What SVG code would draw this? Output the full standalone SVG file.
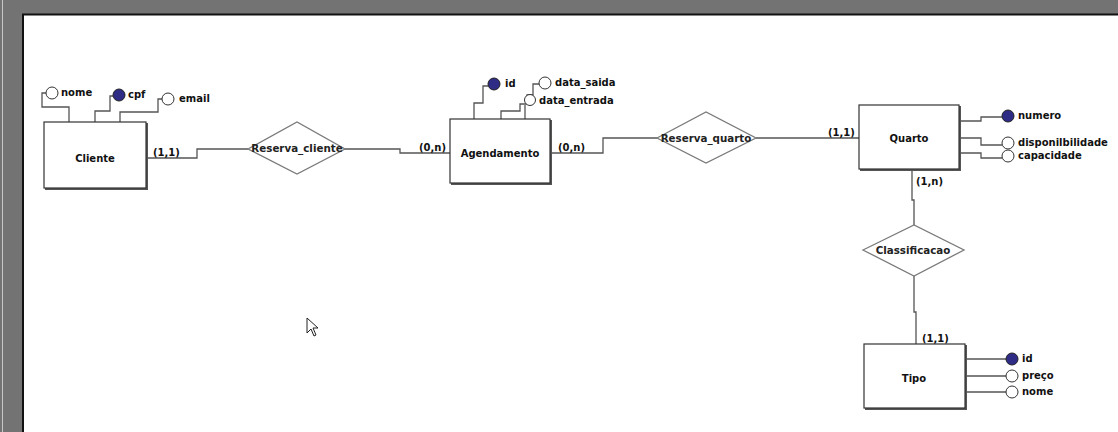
<svg xmlns="http://www.w3.org/2000/svg" width="1118" height="432" viewBox="0 0 1118 432">
<style>
text{font-family:"DejaVu Sans","Liberation Sans",sans-serif;font-weight:bold;font-size:10px;fill:#111}
.rel{fill:#222;font-size:10.3px}
.ln{fill:none;stroke:#555;stroke-width:1.3}
.box{fill:#fff;stroke:#333;stroke-width:1.2}
.sh{fill:none;stroke:#555;stroke-width:2}
.dia{fill:#fff;stroke:#7a7a7a;stroke-width:1.3}
.pk{fill:#2f2c85;stroke:#222;stroke-width:1}
.at{fill:#fff;stroke:#333;stroke-width:1}
</style>
<rect width="1118" height="432" fill="#fff"/>
<rect x="0" y="0" width="1118" height="14" fill="#737373"/>
<rect x="0" y="0" width="23" height="432" fill="#737373"/>
<line x1="2.5" y1="0" x2="2.5" y2="432" stroke="#c8c8c8" stroke-width="1"/>
<line x1="22" y1="14.5" x2="1118" y2="14.5" stroke="#111" stroke-width="2"/>
<line x1="23" y1="14" x2="23" y2="432" stroke="#111" stroke-width="2"/>

<g id="connectors">
<path class="ln" d="M146,158 H197 V149 H248"/>
<path class="ln" d="M345,149 H400 V153 H450"/>
<path class="ln" d="M550,153 H603 V138 H657"/>
<path class="ln" d="M756,138 H859"/>
<path class="ln" d="M912,169 V200 H914 V225"/>
<path class="ln" d="M914,276 V312 H916 V344"/>
<path class="ln" d="M69,122 V107 H42 V93 H46"/>
<path class="ln" d="M95,122 V111 H110 V96 H113"/>
<path class="ln" d="M120,122 V112 H158 V99 H162"/>
<path class="ln" d="M474,119 V103 H483 V86 H488"/>
<path class="ln" d="M501,119 V111 H520 V104 H527 V95 H533 V84 H539"/>
<path class="ln" d="M525,119 V105"/>
<path class="ln" d="M959,121 H981 V117 H1002"/>
<path class="ln" d="M959,138 H981 V145 H1002"/>
<path class="ln" d="M959,153 H981 V158 H1002"/>
<path class="ln" d="M965,359 H1006"/>
<path class="ln" d="M965,376 H1006"/>
<path class="ln" d="M965,392 H1006"/>
<text x="153" y="156">(1,1)</text>
<text x="419" y="151">(0,n)</text>
<text x="558" y="151">(0,n)</text>
<text x="828" y="136">(1,1)</text>
<text x="916" y="185">(1,n)</text>
<text x="922" y="342">(1,1)</text>
</g>

<g id="Cliente">
<path class="sh" d="M45,189 H147 V123"/>
<rect class="box" x="44" y="122" width="102" height="66"/>
<text x="95" y="162" text-anchor="middle">Cliente</text>
</g>
<g id="Cliente_nome"><circle class="at" cx="52" cy="93" r="6"/><text x="61" y="96">nome</text></g>
<g id="Cliente_cpf"><circle class="pk" cx="119" cy="95" r="6"/><text x="128" y="98">cpf</text></g>
<g id="Cliente_email"><circle class="at" cx="168" cy="99" r="6"/><text x="179" y="102">email</text></g>

<g id="Reserva_cliente">
<polygon class="dia" points="248,149 297,122 345,149 297,174"/>
<text class="rel" x="297" y="152" text-anchor="middle">Reserva_cliente</text>
</g>

<g id="Agendamento">
<path class="sh" d="M451,184 H551 V120"/>
<rect class="box" x="450" y="119" width="100" height="64"/>
<text x="500" y="157" text-anchor="middle">Agendamento</text>
</g>
<g id="Agendamento_id"><circle class="pk" cx="494" cy="84" r="6"/><text x="505" y="87">id</text></g>
<g id="Agendamento_data_saida"><circle class="at" cx="545" cy="83" r="6"/><text x="555" y="86">data_saida</text></g>
<g id="Agendamento_data_entrada"><circle class="at" cx="530" cy="100" r="5.5"/><text x="539" y="104">data_entrada</text></g>

<g id="Reserva_quarto">
<polygon class="dia" points="657,138 706,112 756,138 706,163"/>
<text class="rel" x="706" y="142" text-anchor="middle">Reserva_quarto</text>
</g>

<g id="Quarto">
<path class="sh" d="M860,170 H960 V106"/>
<rect class="box" x="859" y="105" width="100" height="64"/>
<text x="909" y="142" text-anchor="middle">Quarto</text>
</g>
<g id="Quarto_numero"><circle class="pk" cx="1008" cy="116" r="6"/><text x="1018" y="119">numero</text></g>
<g id="Quarto_disponilbilidade"><circle class="at" cx="1008" cy="143" r="6"/><text x="1018" y="146">disponilbilidade</text></g>
<g id="Quarto_capacidade"><circle class="at" cx="1008" cy="156" r="6"/><text x="1018" y="159">capacidade</text></g>

<g id="Classificacao">
<polygon class="dia" points="863,250 914,225 964,250 914,276"/>
<text class="rel" x="913" y="254" text-anchor="middle">Classificacao</text>
</g>

<g id="Tipo">
<path class="sh" d="M865,409 H966 V345"/>
<rect class="box" x="864" y="344" width="101" height="64"/>
<text x="914" y="382" text-anchor="middle">Tipo</text>
</g>
<g id="Tipo_id"><circle class="pk" cx="1012" cy="359" r="6"/><text x="1022" y="362">id</text></g>
<g id="Tipo_preco"><circle class="at" cx="1012" cy="376" r="6"/><text x="1022" y="379">preço</text></g>
<g id="Tipo_nome"><circle class="at" cx="1012" cy="392" r="6"/><text x="1022" y="395">nome</text></g>

<polygon points="307,318 307,333 311,329 314,336 316,335 313,328 318,328" fill="#fff" stroke="#222" stroke-width="1"/>
</svg>
